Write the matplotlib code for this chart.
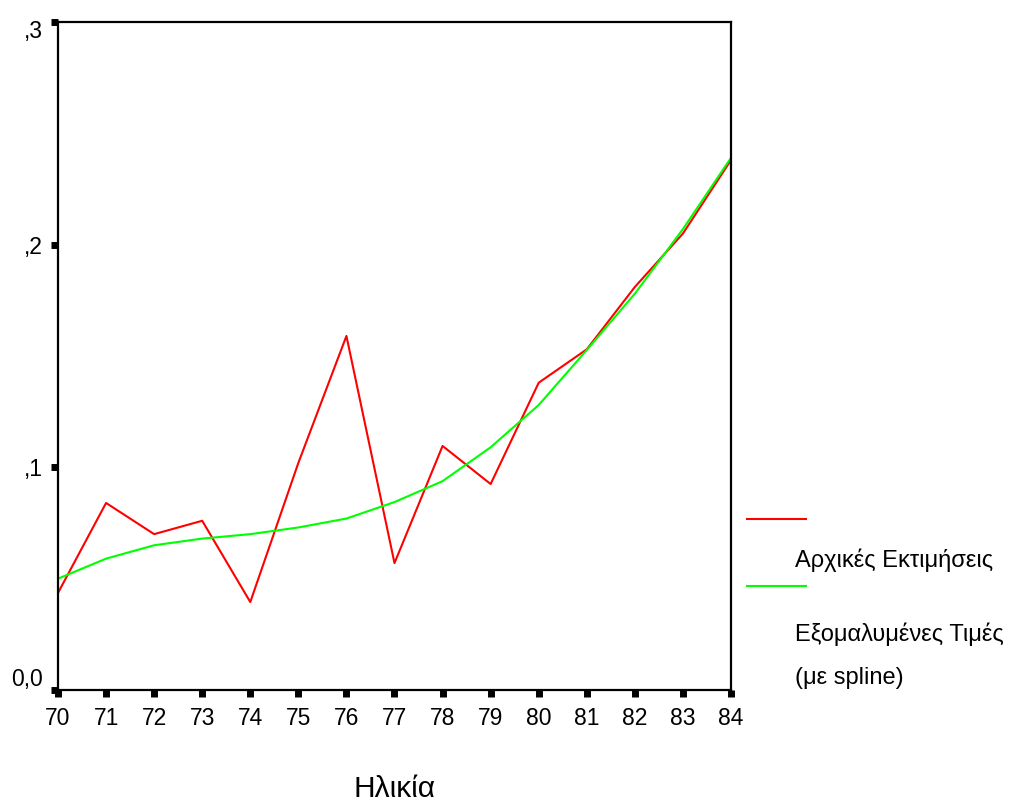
import matplotlib
matplotlib.use("Agg")
import matplotlib.pyplot as plt
from matplotlib.transforms import ScaledTranslation

plt.rcParams['font.family'] = ['Liberation Sans', 'DejaVu Sans']

age = [70, 71, 72, 73, 74, 75, 76, 77, 78, 79, 80, 81, 82, 83, 84]
initial = [0.0436, 0.084, 0.070, 0.076, 0.0395, 0.102, 0.159, 0.057, 0.1096,
           0.0925, 0.138, 0.153, 0.181, 0.205, 0.238]
smoothed = [0.050, 0.059, 0.065, 0.068, 0.070, 0.073, 0.077, 0.0844, 0.0938,
            0.109, 0.128, 0.1527, 0.178, 0.207, 0.239]
ytick_vals = [0.0, 0.1, 0.2, 0.3]
ytick_labels = ['0,0', ',1', ',2', ',3']
legend_labels = ['Αρχικές Εκτιμήσεις', 'Εξομαλυμένες Τιμές', '(με spline)']

fig = plt.figure(figsize=(10.14, 8.02), dpi=100)
ax = fig.add_axes([58 / 1014, 1 - 690 / 802, 673 / 1014, 668 / 802])

ax.plot(age, initial, color='#ff0000', lw=1.5)
ax.plot(age, smoothed, color='#00ff00', lw=1.5)

ax.set_xlim(70, 84)
ax.set_ylim(0, 0.3)
ax.set_xticks(age)
ax.set_yticks(ytick_vals)
ax.set_yticklabels(ytick_labels)
ax.tick_params(direction='out', length=5, width=5, labelsize=16.5)
ax.tick_params(axis='x', pad=7)
ax.tick_params(axis='y', pad=6)
for s in ax.spines.values():
    s.set_linewidth(1.6)

# end labels sit inside the axis range, as in the original
ylabs = ax.get_yticklabels()
ylabs[0].set_transform(ylabs[0].get_transform() +
                       ScaledTranslation(0, 13 / 100, fig.dpi_scale_trans))
ylabs[-1].set_transform(ylabs[-1].get_transform() +
                        ScaledTranslation(0, -7 / 100, fig.dpi_scale_trans))

fig.text(395 / 1014, 1 - 789 / 802, 'Ηλικία', fontsize=21.5,
         ha='center', va='center')

# legend drawn by hand as in the original
fig.lines.append(plt.Line2D([747 / 1014, 806 / 1014], [1 - 519 / 802] * 2,
                            color='#ff0000', lw=1.5, transform=fig.transFigure))
fig.lines.append(plt.Line2D([747 / 1014, 806 / 1014], [1 - 586 / 802] * 2,
                            color='#00ff00', lw=1.5, transform=fig.transFigure))
for lab, yp in zip(legend_labels, [560, 634, 678]):
    fig.text(795 / 1014, 1 - yp / 802, lab, fontsize=17, va='center')

fig.savefig('out.png', dpi=100)
